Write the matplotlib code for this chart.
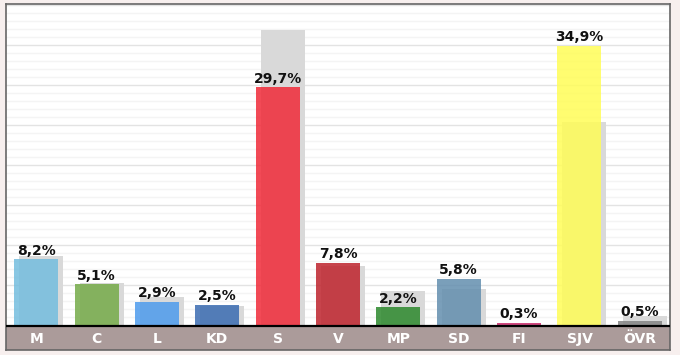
import matplotlib
matplotlib.use("Agg")
import matplotlib.pyplot as plt
import numpy as np

# Party results (current) and previous result drawn as grey shadow
parties = ["M", "C", "L", "KD", "S", "V", "MP", "SD", "FI", "SJV", "ÖVR"]
values = [8.2, 5.1, 2.9, 2.5, 29.7, 7.8, 2.2, 5.8, 0.3, 34.9, 0.5]
previous = [8.6, 5.3, 3.5, 2.4, 36.9, 7.4, 4.2, 4.5, 0.0, 25.4, 1.1]
colors = ["#74bdde", "#75ab49", "#4d9bed", "#3b6cb2", "#f02a38", "#be232c",
          "#2c882c", "#638eae", "#c8286a", "#fffd57", "#838383"]
labels = ["8,2%", "5,1%", "2,9%", "2,5%", "29,7%", "7,8%", "2,2%", "5,8%",
          "0,3%", "34,9%", "0,5%"]

fig = plt.figure(figsize=(6.8, 3.55), dpi=100)
fig.patch.set_facecolor("#f7efee")

W, H = 680, 355
ax = fig.add_axes([6 / W, (H - 350) / H, 664 / W, 346 / H])
ax.set_facecolor("white")

x = np.arange(len(parties))
bar_w = 0.73
shift = 0.083

ax.set_xlim(-0.5, len(parties) - 0.5)
ax.set_ylim(-3.125, 40.125)

# grid: faint line every 1%, a bit darker every 5%
for yv in range(1, 41):
    c = "#e3e3e3" if yv % 5 == 0 else "#f4f4f4"
    ax.axhline(yv, color=c, lw=1.0, zorder=0)

# label band below the baseline
ax.axhspan(-3.2, -0.1, color="#ab9b9a", zorder=1)
ax.axhline(-0.13, color="black", lw=1.6, zorder=5)

ax.bar(x + shift, previous, width=bar_w, color="#d9d9d9", lw=0, zorder=2)
ax.bar(x, values, width=bar_w, color=colors, alpha=0.85, lw=0, zorder=3)

for xi, v, lab in zip(x, values, labels):
    ax.text(xi, v + 0.2, lab, ha="center", va="bottom", fontsize=10,
            fontweight="bold", color="#111111", zorder=6)

for xi, p in zip(x, parties):
    ax.text(xi, -1.75, p, ha="center", va="center", fontsize=10,
            fontweight="bold", color="white", zorder=6)

ax.set_xticks([])
ax.set_yticks([])
for s in ax.spines.values():
    s.set_color("#666666")
    s.set_linewidth(1.2)

fig.savefig("out.png", dpi=100, facecolor=fig.get_facecolor())
